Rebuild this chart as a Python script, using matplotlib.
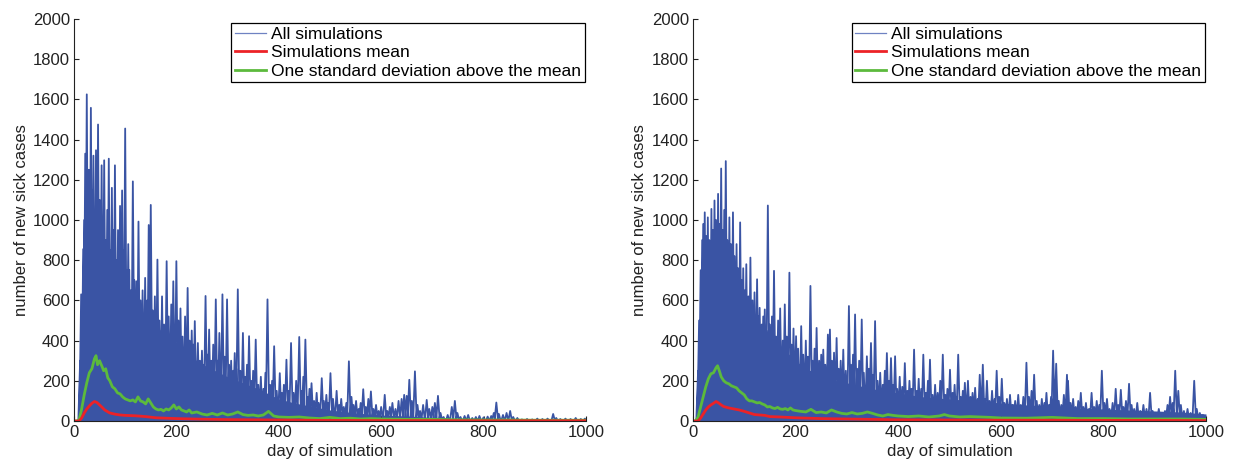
import numpy as np
import matplotlib
matplotlib.use("Agg")
import matplotlib.pyplot as plt
from matplotlib.lines import Line2D

plt.rcParams['font.family'] = ['Liberation Sans', 'DejaVu Sans']

# ---------------- data ----------------
# Left panel
band_days_L = [0, 8, 10, 12, 15, 20, 30, 40, 50, 60, 70, 80, 90, 100, 120, 140, 160, 180, 200, 220, 240,
               260, 280, 300, 330, 360, 400, 430, 460, 500, 550, 600, 650, 700, 750, 800, 900, 1000]
band_vals_L = [0, 0, 150, 400, 650, 820, 880, 900, 870, 820, 780, 730, 680, 640, 580, 520, 470, 430, 390,
               340, 300, 270, 245, 220, 190, 160, 110, 90, 75, 55, 40, 30, 25, 18, 10, 7, 5, 4]

spike_days_L = [12, 14, 16, 18, 20, 22, 25, 27, 29, 31, 33, 36, 38, 41, 43, 45, 47, 50, 52, 54, 57, 59, 62,
                65, 68, 71, 74, 77, 80, 83, 86, 90, 94, 97, 100, 103, 106, 108, 111, 115, 118, 122, 126,
                130, 134, 139, 143, 146, 150, 154, 158, 163, 167, 172, 176, 181, 185, 190, 194, 200, 204,
                208, 212, 217, 222, 226, 230, 233,
                236, 242, 246, 250, 254, 257, 261, 264, 268, 272, 277, 280, 284, 287, 290, 294, 299, 303,
                307, 311, 314, 317, 320, 325, 330, 334, 338, 342, 346, 350, 355, 360, 365, 370, 374, 378,
                383, 387, 391, 396, 402, 406, 410, 415, 419, 424, 429, 434, 440, 445, 448, 452, 457, 460,
                464, 469, 474, 478, 484, 488, 493, 497, 501, 506,
                513, 518, 522, 527, 532, 537, 542, 546, 551, 556, 560, 565, 570, 575, 580, 585, 590, 595,
                600, 607, 612, 617, 622, 628, 634, 640, 645, 650, 655, 660, 666, 671, 676, 682, 689, 694,
                700, 705, 711, 716, 722, 730, 738, 744, 749, 755, 763, 770, 778, 785, 792, 800, 808, 815,
                820, 825, 830, 838, 845, 852, 858, 866, 875, 885, 895, 905, 915, 925, 936, 942, 950, 960,
                970, 980, 990, 998]
spike_vals_L = [300, 630, 522, 855, 1000, 1330, 1625, 1100, 1250, 950, 1558, 1150, 1320, 1050, 1347, 1150,
                1475, 1100, 950, 1272, 1000, 1297, 900, 1050, 1305, 850, 1160, 950, 1272, 800, 950, 1070,
                1147, 850, 1455, 750, 880, 752, 650, 1192, 700, 695, 992, 600, 650, 712, 600, 975, 1075,
                550, 620, 803, 500, 620, 480, 795, 520, 580, 695, 795, 500, 560, 420, 520, 662, 400, 450,
                380,
                497, 388, 300, 350, 280, 622, 330, 455, 300, 380, 605, 300, 438, 280, 630, 320, 605, 280,
                300, 250, 338, 260, 655, 250, 438, 220, 280, 422, 200, 250, 405, 180, 220, 160, 240, 605,
                180, 200, 372, 150, 238, 140, 180, 305, 150, 388, 140, 200, 418, 150, 220, 405, 120, 160,
                188, 100, 140, 90, 213, 100, 130, 90, 238, 110,
                150, 80, 110, 70, 90, 297, 120, 80, 100, 60, 90, 158, 70, 110, 147, 60, 80, 50,
                70, 130, 50, 70, 90, 60, 100, 110, 130, 125, 205, 100, 247, 80, 50, 80, 105, 60,
                70, 90, 125, 40, 20, 30, 70, 100, 40, 20, 25, 30, 15, 20, 25, 18, 22, 25,
                40, 92, 35, 30, 40, 50, 20, 15, 8, 10, 8, 12, 10, 12, 35, 15, 10, 12,
                10, 15, 10, 12]

mean_days_L = [0, 10, 15, 20, 25, 30, 35, 40, 45, 50, 55, 60, 70, 80, 90, 100, 120, 140, 160, 180, 200,
               250, 300, 350, 400, 500, 600, 700, 800, 900, 1000]
mean_vals_L = [0, 0, 15, 40, 60, 75, 88, 97, 92, 80, 68, 55, 40, 34, 30, 28, 26, 22, 16, 14, 12, 9, 7, 6,
               5, 3, 2, 2, 1, 1, 1]

std_days_L = [0, 5, 10, 15, 20, 25, 30, 35, 40, 43, 46, 50, 55, 58, 62, 66, 70, 75, 80, 85, 90, 95, 100,
              105, 110, 115, 120, 125, 130, 135, 140, 145, 150, 155, 160, 165, 170, 175, 180, 185, 190,
              195, 200, 205, 210, 215, 220, 225, 230, 240, 250, 260, 270, 280, 290, 300, 310, 320, 330,
              340, 350, 360, 370, 380, 390, 400, 420, 440, 460, 480, 500, 520, 540, 560, 580, 600, 650,
              700, 750, 800, 850, 900, 950, 1000]
std_vals_L = [0, 0, 5, 60, 130, 190, 240, 260, 310, 325, 280, 300, 270, 250, 260, 215, 200, 170, 160, 140,
              135, 120, 110, 105, 100, 105, 95, 120, 100, 95, 85, 110, 90, 70, 60, 55, 58, 50, 60, 55,
              65, 80, 60, 70, 55, 50, 45, 55, 40, 45, 35, 30, 38, 30, 40, 30, 35, 45, 32, 28, 30, 25,
              30, 48, 25, 20, 18, 20, 15, 12, 18, 12, 14, 10, 12, 10, 8, 8, 6, 5, 5, 4, 4, 4]

# Right panel
band_days_R = [0, 8, 10, 12, 15, 20, 30, 50, 60, 80, 100, 120, 140, 160, 180, 200, 220, 250, 280, 300, 350,
               400, 450, 500, 550, 600, 650, 700, 750, 800, 850, 900, 950, 1000]
band_vals_R = [0, 0, 150, 350, 550, 680, 720, 730, 700, 640, 560, 500, 460, 400, 350, 300, 260, 230, 200,
               190, 160, 140, 120, 110, 100, 90, 80, 75, 65, 60, 55, 50, 45, 35]

spike_days_R = [10, 12, 15, 18, 20, 23, 26, 29, 32, 36, 39, 42, 45, 49, 52, 55, 58, 61, 64, 67, 71, 74, 78,
                81, 85, 88, 92, 95, 98, 101, 104, 108, 112, 116, 120, 125, 128, 130, 134, 137, 140, 143,
                146, 150, 154, 158, 162, 166, 170, 175, 179, 183, 188, 192, 196, 201, 205, 211, 215, 220,
                224, 229, 233, 237,
                241, 246, 250, 254, 258, 263, 267, 271, 275, 280, 284, 288, 293, 298, 304, 308, 312, 316,
                320, 324, 329, 333, 339, 343, 347, 351, 355, 360, 365, 370, 374, 378, 382, 386, 390, 394,
                398, 403, 408, 413, 418, 422, 426, 431, 436, 440, 445, 449, 454, 458, 462, 467, 472, 477,
                482, 487, 492, 496,
                501, 506, 510, 514, 517, 522, 526, 530, 533, 536, 541, 545, 550, 555, 559, 562, 565, 569,
                573, 578, 583, 588, 592, 597, 602, 607, 612, 618, 623, 628, 634, 639, 644, 650, 655, 660,
                665, 670, 675, 680, 685, 689, 694, 698, 702, 705, 708, 713, 718, 723, 729, 731, 736, 741,
                746, 751, 756, 761, 766, 772, 777, 782, 787, 792, 797, 802, 807, 812, 818, 824, 829, 834,
                839, 844, 850, 855, 860, 866, 872, 878, 884, 891, 896, 902, 908, 914, 920, 925, 930, 935,
                940, 946, 951, 957, 964, 970, 977, 982, 988, 994, 999]
spike_vals_R = [250, 500, 750, 900, 980, 1038, 920, 1013, 900, 1055, 950, 1097, 1000, 1130, 980, 1256, 950,
                1050, 1293, 900, 1013, 880, 1038, 820, 880, 760, 988, 700, 760, 650, 780, 620, 813, 600,
                640, 705, 520, 563, 480, 520, 555, 450, 1072, 480, 520, 747, 420, 500, 560, 400, 580, 420,
                738, 380, 460, 422, 360, 472, 330, 400, 320, 672, 300, 360,
                463, 300, 330, 355, 280, 430, 455, 300, 340, 413, 260, 300, 355, 250, 572, 280, 330, 530,
                260, 300, 505, 240, 322, 260, 388, 230, 497, 200, 240, 180, 250, 338, 200, 313, 180, 322,
                160, 220, 170, 288, 150, 200, 160, 355, 150, 210, 160, 330, 140, 200, 305, 130, 180, 140,
                200, 330, 130, 160,
                255, 140, 180, 120, 330, 120, 150, 190, 110, 200, 120, 140, 165, 110, 230, 150, 280, 110,
                200, 100, 150, 110, 250, 120, 210, 90, 110, 130, 80, 100, 130, 80, 120, 290, 120, 150,
                230, 100, 80, 110, 90, 140, 80, 120, 350, 200, 285, 100, 80, 130, 230, 200, 90, 110,
                70, 100, 140, 70, 90, 60, 140, 70, 100, 80, 250, 90, 110, 60, 90, 160, 80, 155,
                70, 100, 185, 80, 60, 90, 50, 80, 60, 140, 50, 40, 60, 40, 50, 80, 120, 90,
                250, 150, 80, 50, 60, 40, 200, 60, 40, 30, 25]

mean_days_R = [0, 10, 15, 20, 25, 30, 35, 40, 45, 50, 55, 60, 70, 80, 90, 100, 110, 120, 130, 140, 150,
               170, 200, 250, 300, 350, 400, 500, 600, 700, 800, 900, 1000]
mean_vals_R = [0, 0, 15, 35, 55, 70, 80, 88, 97, 90, 80, 72, 65, 60, 55, 48, 40, 32, 30, 28, 22, 20, 16,
               12, 10, 8, 6, 5, 4, 4, 3, 3, 2]

std_days_R = [0, 5, 10, 15, 20, 25, 30, 35, 40, 45, 48, 52, 55, 60, 65, 70, 75, 80, 85, 90, 95, 100, 105,
              110, 115, 120, 125, 130, 135, 140, 145, 150, 155, 160, 165, 170, 175, 180, 185, 190, 195,
              200, 210, 220, 230, 240, 250, 260, 270, 280, 290, 300, 310, 320, 330, 340, 350, 360, 370,
              380, 390, 400, 420, 440, 460, 480, 490, 500, 520, 540, 560, 580, 600, 650, 700, 750, 800,
              850, 900, 950, 1000]
std_vals_R = [0, 0, 20, 70, 120, 170, 210, 235, 240, 265, 275, 245, 220, 200, 190, 185, 175, 170, 165, 150,
              140, 130, 110, 100, 100, 95, 90, 92, 85, 80, 70, 72, 65, 62, 68, 60, 58, 62, 55, 65, 55,
              52, 48, 45, 58, 42, 45, 40, 55, 45, 38, 35, 42, 35, 38, 45, 38, 30, 25, 32, 28, 25, 22,
              25, 20, 25, 32, 25, 20, 22, 20, 18, 15, 14, 18, 12, 12, 10, 10, 10, 8]

x_ticks = [0, 200, 400, 600, 800, 1000]
y_ticks = list(range(0, 2001, 200))
legend_labels = ["All simulations", "Simulations mean", "One standard deviation above the mean"]

# ---------------- styling ----------------
BLUE = '#3a54a4'
BLUE_LEG = '#6f82c2'
RED = '#ec2227'
GREEN = '#5cba3c'
FS = 12
FS_LEG = 12.5

fig = plt.figure(figsize=(12.33, 4.63), dpi=100)
axL = fig.add_axes([0.0600, 0.0907, 0.4152, 0.8683])
axR = fig.add_axes([0.5620, 0.0907, 0.4161, 0.8683])


def spikes_xy(days, vals, w=3.5):
    xs, ys = [], []
    for d, v in zip(days, vals):
        xs += [d - w, d, d + w]
        ys += [0, v, 0]
    return np.array(xs), np.array(ys)


def draw(ax, bd, bv, sd, sv, md, mv, sdd, sdv):
    ax.fill_between(bd, 0, bv, color=BLUE, lw=0, zorder=1)
    xs, ys = spikes_xy(sd, sv)
    ax.plot(xs, ys, color=BLUE, lw=1.3, zorder=2)
    ax.plot(sdd, sdv, color=GREEN, lw=2.0, zorder=3)
    ax.plot(md, mv, color=RED, lw=2.0, zorder=4)
    ax.set_xlim(0, 1000)
    ax.set_ylim(0, 2000)
    ax.set_xticks(x_ticks)
    ax.set_yticks(y_ticks)
    ax.tick_params(direction='in', length=3.5, width=0.8, labelsize=FS, colors='#222222', pad=3)
    for s in ['top', 'right']:
        ax.spines[s].set_visible(False)
    for s in ['left', 'bottom']:
        ax.spines[s].set_linewidth(0.8)
        ax.spines[s].set_color('#222222')
        ax.spines[s].set_zorder(5)
    ax.set_xlabel("day of simulation", fontsize=FS, color='#222222', labelpad=3)
    ax.set_ylabel("number of new sick cases", fontsize=FS, color='#222222', labelpad=3)
    handles = [Line2D([], [], color=BLUE_LEG, lw=0.9),
               Line2D([], [], color=RED, lw=2.0),
               Line2D([], [], color=GREEN, lw=2.0)]
    leg = ax.legend(handles, legend_labels, loc='upper right', bbox_to_anchor=(0.998, 0.99),
                    borderaxespad=0, fontsize=FS_LEG, fancybox=False, framealpha=1,
                    edgecolor='black', handlelength=1.8, handletextpad=0.3,
                    labelspacing=0.2, borderpad=0.2)
    leg.get_frame().set_linewidth(0.9)
    leg.set_zorder(10)


draw(axL, band_days_L, band_vals_L, spike_days_L, spike_vals_L, mean_days_L, mean_vals_L,
     std_days_L, std_vals_L)
draw(axR, band_days_R, band_vals_R, spike_days_R, spike_vals_R, mean_days_R, mean_vals_R,
     std_days_R, std_vals_R)

fig.savefig("out.png", dpi=100)
